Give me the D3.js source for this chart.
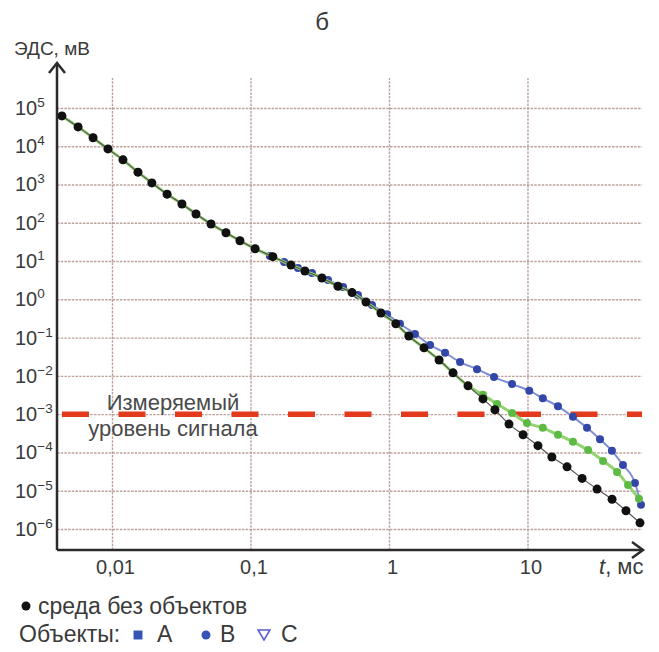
<!DOCTYPE html>
<html>
<head>
<meta charset="utf-8">
<script src="https://cdn.jsdelivr.net/npm/d3@7"></script>
<style>
  body { margin: 0; background: #fff; }
  text { font-family: "Liberation Sans", Arial, sans-serif; }
</style>
</head>
<body>
<svg id="chart" width="659" height="652"></svg>
<script>
// Transient EMF decay, log–log: t (ms) vs EMF (mV)

// background medium without objects
const tBase = [0.00435, 0.00569, 0.0073, 0.00935, 0.012, 0.0154, 0.0194, 0.025, 0.032, 0.0404,
  0.0519, 0.0665, 0.0839, 0.108, 0.145, 0.196, 0.247, 0.328, 0.428, 0.541,
  0.682, 0.875, 1.12, 1.39, 1.79, 2.30, 2.90, 3.72, 4.77, 5.82,
  7.35, 9.29, 11.9, 15.0, 19.3, 24.8, 31.8, 40.8, 51.4, 64.9];
const emfBase = [6.2e4, 3.2e4, 1.66e4, 8.5e3, 4.4e3, 2.1e3, 1.1e3, 560, 310, 170,
  93, 55, 34, 21, 13, 7.9, 5.5, 3.6, 2.2, 1.5,
  0.85, 0.44, 0.23, 0.11, 0.054, 0.026, 0.012, 5.5e-3, 2.5e-3, 1.3e-3,
  5.5e-4, 2.9e-4, 1.5e-4, 7.6e-5, 4.2e-5, 2.1e-5, 1.1e-5, 6.0e-6, 3.0e-6, 1.45e-6];

// object B
const tB = [0.00435, 0.00569, 0.0073, 0.00935, 0.012, 0.0154, 0.0194, 0.025, 0.032, 0.0404,
  0.0519, 0.0665, 0.0839, 0.108, 0.138, 0.175, 0.220, 0.278, 0.363, 0.466,
  0.597, 0.754, 0.968, 1.20, 1.54, 1.98, 2.54, 3.26, 4.32, 5.73,
  7.73, 10.3, 12.9, 16.6, 21.3, 26.9, 33.4, 40.7, 48.9, 59.7, 66.0];
const emfB = [6.2e4, 3.2e4, 1.66e4, 8.5e3, 4.4e3, 2.1e3, 1.1e3, 560, 310, 170,
  93, 55, 34, 21, 13.6, 9.5, 6.6, 4.9, 3.2, 2.1,
  1.3, 0.71, 0.41, 0.23, 0.125, 0.064, 0.040, 0.023, 0.015, 0.0093,
  0.0061, 0.0041, 0.0026, 0.0016, 8.5e-4, 4.4e-4, 2.2e-4, 1.1e-4, 4.7e-5, 1.6e-5, 4.3e-6];

// object C
const tC = [0.00435, 0.00569, 0.0073, 0.00935, 0.012, 0.0154, 0.0194, 0.025, 0.032, 0.0404,
  0.0519, 0.0665, 0.0839, 0.108, 0.145, 0.196, 0.247, 0.328, 0.428, 0.541,
  0.682, 0.875, 1.12, 1.39, 1.79, 2.30, 2.90, 3.72, 4.77, 6.03,
  7.73, 9.91, 12.9, 16.6, 21.3, 27.4, 35.1, 44.3, 53.2, 63.8];
const emfC = [6.2e4, 3.2e4, 1.66e4, 8.5e3, 4.4e3, 2.1e3, 1.1e3, 560, 310, 170,
  93, 55, 34, 21, 13, 7.9, 5.5, 3.6, 2.2, 1.5,
  0.85, 0.44, 0.23, 0.11, 0.054, 0.026, 0.012, 5.5e-3, 3.2e-3, 1.85e-3,
  1.07e-3, 5.9e-4, 4.4e-4, 2.9e-4, 1.9e-4, 1.15e-4, 6.0e-5, 3.1e-5, 1.4e-5, 6.2e-6];

// measurable signal level, mV
const signalLevel = 1e-3;

const xTicks = [0.01, 0.1, 1, 10];
const xTickLabels = ["0,01", "0,1", "1", "10"];
const yExponents = [5, 4, 3, 2, 1, 0, -1, -2, -3, -4, -5, -6];

const svg = d3.select("#chart");
const plotLeft = 57, plotRight = 645, plotBottom = 550, plotTop = 62;

const x = d3.scaleLog().domain([0.004008, 70.54]).range([plotLeft, plotRight]);
const y = d3.scaleLog().domain([2.825e-7, 1.585e6]).range([plotBottom, plotTop]);

const gridColor = "#b39089";
const inkColor = "#2b2b2b";
const textColor = "#3a3a3a";

// horizontal grid + y labels
const gy = svg.append("g")
  .attr("transform", `translate(${plotLeft},0)`)
  .call(d3.axisLeft(y)
    .tickValues(yExponents.map(e => Math.pow(10, e)))
    .tickSize(-(642 - plotLeft))
    .tickFormat(""));
gy.select(".domain").remove();
gy.selectAll(".tick line")
  .attr("stroke", gridColor)
  .attr("stroke-opacity", 0.85)
  .attr("stroke-width", 1.4)
  .attr("stroke-dasharray", "2.5,1.2");

gy.selectAll(".tick").each(function(d, i) {
  const e = yExponents[i];
  const t = d3.select(this).append("text")
    .attr("x", 15 - plotLeft)
    .attr("y", 6.5)
    .attr("text-anchor", "start")
    .attr("fill", textColor)
    .attr("font-size", 20);
  t.append("tspan").text("10");
  t.append("tspan")
    .attr("dy", -8)
    .attr("font-size", 13.5)
    .text(e < 0 ? "\u2212" + Math.abs(e) : String(e));
});

// vertical grid + x labels
const gx = svg.append("g")
  .attr("transform", `translate(0,${plotBottom})`)
  .call(d3.axisBottom(x)
    .tickValues(xTicks)
    .tickSize(-(plotBottom - 78))
    .tickFormat((d, i) => xTickLabels[i]));
gx.select(".domain").remove();
gx.selectAll(".tick line")
  .attr("stroke", gridColor)
  .attr("stroke-opacity", 0.85)
  .attr("stroke-width", 1.4)
  .attr("stroke-dasharray", "2.5,1.2");
gx.selectAll(".tick text")
  .attr("fill", textColor)
  .attr("font-size", 20)
  .attr("y", 24)
  .attr("dy", 0)
  .attr("dx", 3)
  .style("font-family", "'Liberation Sans', Arial, sans-serif");

// threshold (dashed red)
svg.append("line")
  .attr("x1", 62).attr("x2", 642)
  .attr("y1", y(signalLevel)).attr("y2", y(signalLevel))
  .attr("stroke", "#e3391d")
  .attr("stroke-width", 5.5)
  .attr("stroke-dasharray", "27,29.5");

// curves
const line = d3.line()
  .x(d => x(d[0]))
  .y(d => y(d[1]))
  .curve(d3.curveMonotoneX);

const seriesB = tB.map((t, i) => [t, emfB[i]]);
const seriesC = tC.map((t, i) => [t, emfC[i]]);
const seriesBase = tBase.map((t, i) => [t, emfBase[i]]);

svg.append("path").datum(seriesB)
  .attr("d", line).attr("fill", "none")
  .attr("stroke", "#7f8fd6").attr("stroke-width", 2);
svg.selectAll(".ptB").data(seriesB).join("circle")
  .attr("cx", d => x(d[0])).attr("cy", d => y(d[1]))
  .attr("r", 4).attr("fill", "#3347a8");

svg.append("path").datum(seriesC)
  .attr("d", line).attr("fill", "none")
  .attr("stroke", "#93d36e").attr("stroke-width", 3);
svg.selectAll(".ptC").data(seriesC).join("circle")
  .attr("cx", d => x(d[0])).attr("cy", d => y(d[1]))
  .attr("r", 4).attr("fill", "#5dbb45");

svg.append("path").datum(seriesBase)
  .attr("d", line).attr("fill", "none")
  .attr("stroke", "#555").attr("stroke-width", 1.2);
svg.selectAll(".ptBase").data(seriesBase).join("circle")
  .attr("cx", d => x(d[0])).attr("cy", d => y(d[1]))
  .attr("r", 4.5).attr("fill", "#111");

// threshold label
const lbl = svg.append("text")
  .attr("text-anchor", "middle")
  .attr("fill", "#4a4a4a")
  .attr("font-size", 22);
lbl.append("tspan").attr("x", 173).attr("y", 410).text("Измеряемый");
lbl.append("tspan").attr("x", 173).attr("y", 436).text("уровень сигнала");

// axes with arrows
svg.append("line").attr("x1", plotLeft).attr("x2", plotLeft).attr("y1", plotBottom).attr("y2", plotTop + 1)
  .attr("stroke", inkColor).attr("stroke-width", 2.5);
svg.append("line").attr("x1", plotLeft).attr("x2", 643).attr("y1", plotBottom).attr("y2", plotBottom)
  .attr("stroke", inkColor).attr("stroke-width", 2.5);
svg.append("path").attr("d", `M${plotLeft - 8},${plotTop + 11}L${plotLeft},${plotTop + 1}L${plotLeft + 8},${plotTop + 11}`)
  .attr("fill", "none").attr("stroke", inkColor).attr("stroke-width", 2.5);
svg.append("path").attr("d", `M632,${plotBottom - 8}L643,${plotBottom}L632,${plotBottom + 8}`)
  .attr("fill", "none").attr("stroke", inkColor).attr("stroke-width", 2.5);

// axis titles
svg.append("text").attr("x", 14).attr("y", 55).attr("font-size", 19).attr("fill", textColor)
  .text("ЭДС, мВ");
const xt = svg.append("text").attr("x", 599).attr("y", 574).attr("font-size", 22).attr("fill", textColor);
xt.append("tspan").attr("font-style", "italic").text("t");
xt.append("tspan").text(", мс");

// panel letter
svg.append("text").attr("x", 322).attr("y", 30).attr("text-anchor", "middle")
  .attr("font-size", 24).attr("fill", textColor).text("б");

// legend
svg.append("circle").attr("cx", 26).attr("cy", 606).attr("r", 4.5).attr("fill", "#111");
svg.append("text").attr("x", 38).attr("y", 614).attr("font-size", 23).attr("fill", textColor)
  .text("среда без объектов");

svg.append("text").attr("x", 19).attr("y", 642).attr("font-size", 23).attr("fill", textColor)
  .text("Объекты:");
svg.append("path").attr("d", d3.symbol(d3.symbolSquare, 80)())
  .attr("transform", "translate(138,635)").attr("fill", "#3554b5");
svg.append("text").attr("x", 157).attr("y", 642).attr("font-size", 23).attr("fill", textColor).text("А");
svg.append("circle").attr("cx", 206).attr("cy", 635).attr("r", 4.5).attr("fill", "#3554b5");
svg.append("text").attr("x", 220).attr("y", 642).attr("font-size", 23).attr("fill", textColor).text("В");
svg.append("path").attr("d", "M258,630L270,630L264,640Z")
  .attr("fill", "none").attr("stroke", "#5a5ad0").attr("stroke-width", 1.5);
svg.append("text").attr("x", 281).attr("y", 642).attr("font-size", 23).attr("fill", textColor).text("С");
</script>
</body>
</html>
